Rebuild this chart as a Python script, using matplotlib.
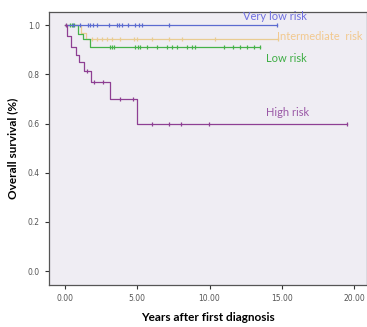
import matplotlib.pyplot as plt
import numpy as np

# step curves (time in years, survival after the step)
high_t = [0, 0.15, 0.4, 0.75, 0.95, 1.3, 1.8, 3.1, 4.97, 19.5]
high_s = [1.0, 0.955, 0.91, 0.88, 0.85, 0.815, 0.77, 0.70, 0.60, 0.60]
high_cens_t = [0.05, 1.55, 2.0, 2.6, 3.8, 4.7, 6.0, 7.2, 8.0, 9.95, 19.5]
high_cens_s = [1.0, 0.815, 0.77, 0.77, 0.70, 0.70, 0.60, 0.60, 0.60, 0.60, 0.60]

vlow_t = [0, 14.65]
vlow_s = [1.0, 1.0]
vlow_cens = [0.58, 1.04, 1.57, 1.74, 1.92, 2.24, 3.01, 3.59, 3.73, 3.96,
             4.38, 4.81, 5.14, 5.32, 7.18, 14.65]

inter_t = [0, 1.1, 1.45, 14.75]
inter_s = [1.0, 0.97, 0.943, 0.943]
inter_cens = [1.85, 2.2, 2.55, 2.9, 3.24, 3.82, 4.75, 4.98, 6.0, 7.18, 8.1,
              10.4, 14.75]

low_t = [0, 0.93, 1.27, 1.74, 13.5]
low_s = [1.0, 0.965, 0.945, 0.912, 0.912]
low_cens_t = [0.35, 0.5, 0.65, 3.12, 3.24, 3.36, 4.86, 5.02, 5.21, 5.67,
              6.37, 7.06, 7.41, 7.75, 8.45, 8.8, 9.03, 11.0, 11.6, 12.1,
              12.6, 13.05, 13.5]
low_cens_s = [1.0, 1.0, 1.0] + [0.912] * 20

xticks = [0, 5, 10, 15, 20]
yticks = [0.0, 0.2, 0.4, 0.6, 0.8, 1.0]

c_high = "#8e3f93"
c_vlow = "#5b6bd0"
c_inter = "#e9cc92"
c_low = "#45b248"

fig = plt.figure(figsize=(3.67, 3.27), dpi=100)
ax = fig.add_axes([0.1335, 0.128, 0.8665, 0.835])
ax.set_facecolor("#efedf3")

def km(t, s, ct, cs, col):
    ax.step(t, s, where="post", color=col, lw=0.9)
    ax.plot(ct, cs, ls="none", marker="|", ms=3.5, mew=0.9, color=col)

km(inter_t, inter_s, inter_cens, [0.943] * len(inter_cens), c_inter)
km(low_t, low_s, low_cens_t, low_cens_s, c_low)
km(vlow_t, vlow_s, vlow_cens, [1.0] * len(vlow_cens), c_vlow)
km(high_t, high_s, high_cens_t, high_cens_s, c_high)

lab_font = ["Lato", "DejaVu Sans"]
ax.text(14.5, 1.037, "Very low risk", color="#6f6fe0", fontsize=8,
        family=lab_font, ha="center", va="center")
ax.text(14.7, 0.955, "Intermediate  risk", color="#f2c98f", fontsize=8,
        family=lab_font, ha="left", va="center", clip_on=False)
ax.text(15.3, 0.865, "Low risk", color="#3fae45", fontsize=8,
        family=lab_font, ha="center", va="center")
ax.text(15.4, 0.643, "High risk", color="#9a58a6", fontsize=8,
        family=lab_font, ha="center", va="center")

ax.set_xlim(-1.11, 20.9)
ax.set_ylim(-0.057, 1.053)
ax.set_xticks(xticks)
ax.set_xticklabels(["%.2f" % v for v in xticks])
ax.set_yticks(yticks)
ax.set_yticklabels(["%.1f" % v for v in yticks])
ax.tick_params(labelsize=5.5, labelcolor="#555555", color="#333333",
               length=3, width=0.8, direction="out")
for sp in ax.spines.values():
    sp.set_color("#555555")
    sp.set_linewidth(0.9)

ax.set_xlabel("Years after first diagnosis", fontsize=8.5, fontweight="bold",
              family=lab_font, labelpad=6)
ax.set_ylabel("Overall survival (%)", fontsize=8.5, fontweight="bold",
              family=lab_font, labelpad=7)

fig.savefig("out.png", dpi=100)
